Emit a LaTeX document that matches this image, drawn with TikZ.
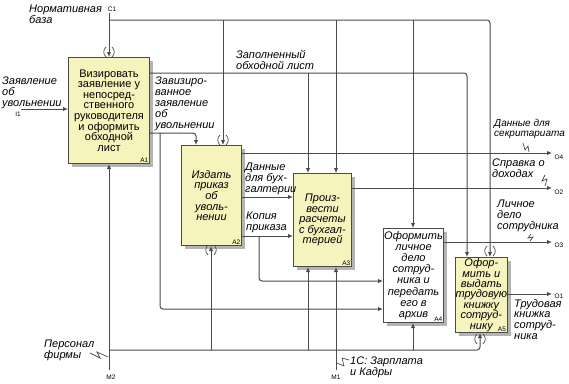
\documentclass[tikz,border=0pt]{standalone}
\usepackage{fontspec}
\setmainfont{Liberation Sans}
\usetikzlibrary{arrows.meta,shadows}
\definecolor{boxy}{RGB}{247,243,188}
\definecolor{lnc}{RGB}{75,75,75}
\definecolor{shd}{RGB}{180,180,180}
\tikzset{
 box/.style={draw=lnc, line width=1pt, fill=boxy, inner sep=0pt, align=center,
   font=\fontsize{11}{10.6}\selectfont, text=black,
   drop shadow={shadow xshift=3.5pt, shadow yshift=-3.5pt, fill=shd, opacity=1}},
 boxi/.style={box, font=\itshape\fontsize{11}{10.6}\selectfont},
 conn/.style={draw=lnc, line width=1pt, rounded corners=3pt},
 arr/.style={conn, -{Latex[length=5pt,width=4.5pt]}},
 lbl/.style={font=\itshape\fontsize{11}{10.8}\selectfont, align=left, inner sep=0pt, anchor=north west, text=black},
 tag/.style={font=\fontsize{6.5}{6.5}\selectfont, inner sep=0pt, text=black},
 tun/.style={draw=lnc, line width=0.7pt},
 zig/.style={draw=lnc, line width=0.7pt},
}
\newcommand\tunnelmark[2]{%
 \draw[tun] (#1-3,#2-5) .. controls (#1-6,#2-2) and (#1-6,#2+2) .. (#1-3,#2+5);
 \draw[tun] (#1+3,#2-5) .. controls (#1+6,#2-2) and (#1+6,#2+2) .. (#1+3,#2+5);}
\begin{document}
\begin{tikzpicture}[x=1pt,y=-1pt]
\useasboundingbox (0,0) rectangle (569,383);
\fill[white] (0,0) rectangle (569,383);

% boxes
\node[box, minimum width=81, minimum height=106, anchor=north west] (A1) at (68,57)
 {Визировать\\заявление у\\непосред-\\ственного\\руководителя\\и оформить\\обходной\\лист};
\node[boxi, minimum width=60, minimum height=100, anchor=north west] (A2) at (181,145)
 {Издать\\приказ\\об\\уволь-\\нении};
\node[boxi, minimum width=58, minimum height=93, anchor=north west] (A3) at (293,173)
 {Произ-\\вести\\расчеты\\с бухгал-\\терией};
\node[boxi, fill=white, font=\itshape\fontsize{11}{11.2}\selectfont, minimum width=60, minimum height=94, anchor=north west] (A4) at (383,228)
 {Оформить\\личное\\дело\\сотруд-\\ника и\\передать\\его в\\архив};
\node[boxi, font=\itshape\fontsize{11}{10.4}\selectfont, minimum width=50, minimum height=75, anchor=north west] (A5) at (455,257)
 {Офор-\\мить и\\выдать\\трудовую\\книжку\\сотруд-\\нику};

\foreach \b in {A1,A2,A3,A4,A5}
 \node[tag, anchor=south east, xshift=-1.5pt, yshift=1.5pt] at (\b.south east) {\b};

% boundary points
\coordinate (C1) at (109,13);
\coordinate (I1) at (21,109);
\coordinate (M2) at (109,370);
\coordinate (M1) at (336,370);
\coordinate (O4) at (552,153);
\coordinate (O2) at (552,188);
\coordinate (O3) at (552,242);
\coordinate (O1) at (552,294);

% controls
\draw[arr] (C1) -- (C1 |- A1.north);
\draw[arr] (C1 |- 0,20) -- (490,20) -- (490,0 |- A5.north);
\draw[arr] (223,20) -- (223,0 |- A2.north);
\draw[arr] (336,20) -- (336,0 |- A3.north);
\draw[arr] (413,20) -- (413,0 |- A4.north);

% A1 outputs
\draw[arr] (A1.east |- 0,73) -- (467,73) -- (467,0 |- A5.north);
\draw[arr] (308,73) -- (308,0 |- A3.north);
\draw[arr] (A1.east |- 0,133) -- (196,133) -- (196,0 |- A2.north);
\draw[arr] (160,133) -- (160,309) -- (A4.west |- 0,309);

% input
\draw[arr] (I1) -- (I1 -| A1.west);

% mechanisms
\draw[arr] (M2) -- (M2 |- A1.south);
\draw[arr] (M2 |- 0,350) -- (480,350) -- (480,0 |- A5.south);
\draw[arr] (211,350) -- (211,0 |- A2.south);
\draw[arr] (308,350) -- (308,0 |- A3.south);
\draw[arr] (413,350) -- (413,0 |- A4.south);
\draw[arr] (M1) -- (M1 |- A3.south);

% A2..A5 outputs
\draw[arr] (A2.east |- O4) -- (O4);
\draw[arr] (A2.east |- 0,197) -- (A3.west |- 0,197);
\draw[arr] (A2.east |- 0,236) -- (A3.west |- 0,236);
\draw[arr] (259,236) -- (259,281) -- (A4.west |- 0,281);
\draw[arr] (A3.east |- O2) -- (O2);
\draw[arr] (A4.east |- O3) -- (O3);
\draw[arr] (A5.east |- O1) -- (O1);

% tunnels
\tunnelmark{109}{52}
\tunnelmark{223}{140}
\tunnelmark{211}{250}
\tunnelmark{490}{251}
\tunnelmark{480}{339}

% squiggles
\draw[zig] (523,143) -- (525,150) -- (528,146) -- (529,152);
\draw[zig] (545,175) -- (542,181) -- (547,179) -- (545,186);
\draw[zig] (531,234) -- (528,238) -- (533,237) -- (530,241);
\draw[zig] (90,353) -- (100,358) -- (97,352) -- (108,357);
\draw[zig] (349,360) -- (342,358) -- (344,366) -- (337,363);

% labels
\node[lbl] (lNB) at (29,5) {Нормативная\\база};
\node[tag] (tC1) at (112,9) {C1};
\node[lbl] (lI1) at (2,77) {Заявление\\об\\увольнении};
\node[tag] (tI1) at (18,114) {I1};
\node[lbl] (lZZ) at (155,77) {Завизиро-\\ванное\\заявление\\об\\увольнении};
\node[lbl] (lZO) at (236,50) {Заполненный\\обходной лист};
\node[lbl] (lDB) at (245,163) {Данные\\для бух-\\галтерии};
\node[lbl] (lKP) at (246,212) {Копия\\приказа};
\node[lbl, font=\itshape\fontsize{10}{10.5}\selectfont] (lDS) at (494,119) {Данные для\\секритариата};
\node[tag] (tO4) at (559,157) {O4};
\node[lbl] (lSD) at (492,159) {Справка о\\доходах};
\node[tag] (tO2) at (559,192) {O2};
\node[lbl] (lLD) at (497,200) {Личное\\дело\\сотрудника};
\node[tag] (tO3) at (559,245) {O3};
\node[tag] (tO1) at (559,296) {O1};
\node[lbl] (lTK) at (514,299) {Трудовая\\книжка\\сотруд-\\ника};
\node[lbl] (lPF) at (44,340) {Персонал\\фирмы};
\node[tag] (tM2) at (111,377) {M2};
\node[lbl] (l1C) at (350,357) {1С: Зарплата\\и Кадры};
\node[tag] (tM1) at (336,377) {M1};
\end{tikzpicture}
\end{document}
